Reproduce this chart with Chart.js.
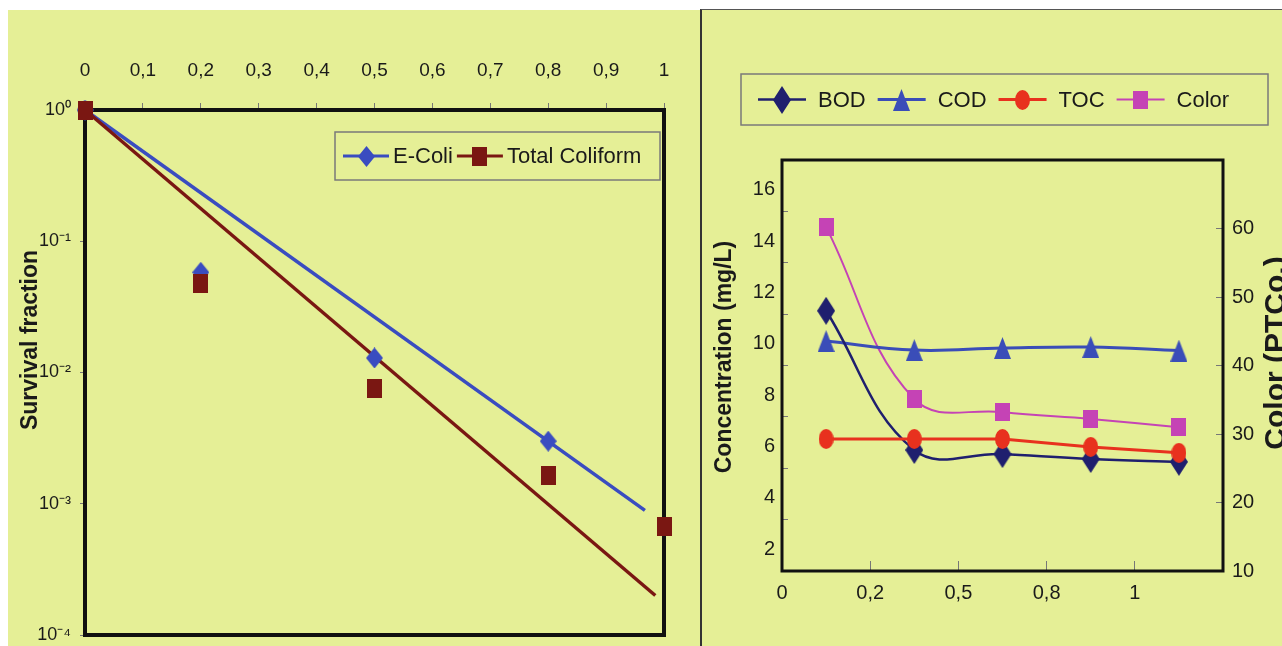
<!DOCTYPE html>
<html>
<head>
<meta charset="utf-8">
<script src="https://cdn.jsdelivr.net/npm/chart.js@4/dist/chart.umd.min.js"></script>
<style>
html,body{margin:0;padding:0;background:#ffffff;width:1282px;height:646px;overflow:hidden}
#left{position:absolute;left:8px;top:10px;width:692px;height:636px;background:#E5EF96}
#right{position:absolute;left:700px;top:9px;width:580px;height:637px;background:#E5EF96;border-left:2px solid #333;border-top:1px solid #555}
canvas{display:block}
</style>
</head>
<body>
<div id="left"><canvas id="c1" width="692" height="636"></canvas></div>
<div id="right"><canvas id="c2" width="580" height="636"></canvas></div>
<script>
// ---------- Left chart data ----------
const doseTicks = [0, 0.1, 0.2, 0.3, 0.4, 0.5, 0.6, 0.7, 0.8, 0.9, 1];
const doseTickLabels = ['0', '0,1', '0,2', '0,3', '0,4', '0,5', '0,6', '0,7', '0,8', '0,9', '1'];
const survivalTicks = [1, 0.1, 0.01, 0.001, 0.0001];
const survivalTickLabels = ['10\u2070', '10\u207B\u00B9', '10\u207B\u00B2', '10\u207B\u00B3', '10\u207B\u2074'];

const eColiDose = [0, 0.2, 0.5, 0.8];
const eColiSurvival = [1, 0.058, 0.0129, 0.0030];
const coliformDose = [0, 0.2, 0.5, 0.8, 1.0];
const coliformSurvival = [1, 0.048, 0.0075, 0.00164, 0.00067];

const eColiFitDose = [0, 0.967];
const eColiFit = [1, 0.00089];
const coliformFitDose = [0, 0.985];
const coliformFit = [1, 0.0002];

// ---------- Right chart data ----------
const treatmentTickLabels = ['0', '0,2', '0,5', '0,8', '1', ''];
const bodValues = [11.13, 5.71, 5.55, 5.36, 5.25];
const codValues = [9.95, 9.6, 9.68, 9.72, 9.58];
const tocValues = [6.14, 6.14, 6.14, 5.83, 5.6];
const colorValues = [60.2, 35.1, 33.2, 32.2, 31.0];
const concTicks = [2, 4, 6, 8, 10, 12, 14, 16];
const colorTicks = [10, 20, 30, 40, 50, 60, 70];
const colorTickLabels = ['10', '20', '30', '40', '50', '60', ''];

// ---------- helpers ----------
const FONT = '"Liberation Sans", Arial, Helvetica, sans-serif';
Chart.defaults.font.family = FONT;
Chart.defaults.color = '#1a1a1a';

function marker(shape, color, w, h) {
  const c = document.createElement('canvas');
  c.width = w; c.height = h;
  const g = c.getContext('2d');
  g.fillStyle = color;
  g.beginPath();
  if (shape === 'diamond') { g.moveTo(w / 2, 0); g.lineTo(w, h / 2); g.lineTo(w / 2, h); g.lineTo(0, h / 2); }
  else if (shape === 'square') { g.rect(0, 0, w, h); }
  else if (shape === 'triangle') { g.moveTo(w / 2, 0); g.lineTo(w, h); g.lineTo(0, h); }
  else if (shape === 'ellipse') { g.ellipse(w / 2, h / 2, w / 2, h / 2, 0, 0, Math.PI * 2); }
  g.closePath(); g.fill();
  return c;
}
const xy = (xs, ys) => xs.map((x, i) => ({ x: x, y: ys[i] }));
const cat = (ys) => ys.map((y, i) => ({ x: i + 0.5, y: y }));

const framePlugin = {
  id: 'frame',
  beforeDatasetsDraw(chart, args, opts) {
    const a = chart.chartArea, ctx = chart.ctx;
    ctx.save();
    ctx.strokeStyle = opts.color; ctx.lineWidth = opts.width;
    ctx.strokeRect(a.left, a.top, a.right - a.left, a.bottom - a.top);
    ctx.restore();
  }
};
const titlePlugin = {
  id: 'axisTitles',
  afterDraw(chart, args, opts) {
    const ctx = chart.ctx;
    (opts.items || []).forEach(t => {
      ctx.save();
      ctx.translate(t.x, t.y);
      ctx.rotate(-Math.PI / 2);
      ctx.font = t.font; ctx.fillStyle = '#1a1a1a';
      ctx.textAlign = 'center'; ctx.textBaseline = t.baseline || 'middle';
      ctx.fillText(t.text, 0, 0);
      ctx.restore();
    });
  }
};
const legendPlugin = {
  id: 'boxLegend',
  afterDraw(chart, args, o) {
    const ctx = chart.ctx;
    ctx.save();
    ctx.strokeStyle = o.borderColor; ctx.lineWidth = o.borderWidth;
    ctx.strokeRect(o.x, o.y, o.w, o.h);
    ctx.font = o.font; ctx.fillStyle = '#1a1a1a';
    ctx.textBaseline = 'middle'; ctx.textAlign = 'left';
    const cy = o.y + o.h / 2;
    let x = o.x + o.padLeft;
    chart.data.datasets.forEach(ds => {
      if (!ds.inLegend) return;
      ctx.strokeStyle = ds.borderColor; ctx.lineWidth = ds.legendLineWidth || ds.borderWidth;
      ctx.beginPath(); ctx.moveTo(x, cy); ctx.lineTo(x + o.lineLen, cy); ctx.stroke();
      const m = ds.pointStyle;
      ctx.drawImage(m, Math.round(x + o.lineLen / 2 - m.width / 2), Math.round(cy - m.height / 2));
      x += o.lineLen + o.gap1;
      ctx.fillText(ds.label, x, cy + 1);
      x += ctx.measureText(ds.label).width + o.gap2;
    });
    ctx.restore();
  }
};
const noEndPadding = s => { s.paddingTop = 0; s.paddingBottom = 0; };

// ---------- Left chart ----------
const ecoliBlue = '#3A4CC0';
const coliformRed = '#7A1712';
new Chart(document.getElementById('c1'), {
  type: 'line',
  data: {
    datasets: [
      { label: 'Total Coliform', data: xy(coliformDose, coliformSurvival), showLine: false,
        borderColor: coliformRed, backgroundColor: coliformRed, borderWidth: 3, legendLineWidth: 3,
        pointStyle: marker('square', coliformRed, 15, 19), pointRadius: 8, clip: false, order: 0, inLegend: true, legendIndex: 1 },
      { label: 'E-Coli', data: xy(eColiDose, eColiSurvival), showLine: false,
        borderColor: ecoliBlue, backgroundColor: ecoliBlue, borderWidth: 3, legendLineWidth: 3,
        pointStyle: marker('diamond', ecoliBlue, 17, 21), pointRadius: 8, clip: false, order: 1, inLegend: true, legendIndex: 0 },
      { label: 'Total Coliform fit', data: xy(coliformFitDose, coliformFit), borderColor: coliformRed,
        borderWidth: 3.5, pointRadius: 0, tension: 0, clip: false, order: 2 },
      { label: 'E-Coli fit', data: xy(eColiFitDose, eColiFit), borderColor: ecoliBlue,
        borderWidth: 3.5, pointRadius: 0, tension: 0, clip: false, order: 3 }
    ]
  },
  options: {
    responsive: false, animation: false,
    layout: { padding: { left: 0, top: 0, right: 36, bottom: 9 } },
    plugins: {
      legend: { display: false }, tooltip: { enabled: false },
      frame: { color: '#111', width: 4 },
      axisTitles: { items: [ { text: 'Survival fraction', x: 23, y: 330, font: 'bold 23px ' + FONT } ] },
      boxLegend: { x: 327, y: 122, w: 325, h: 48, padLeft: 8, lineLen: 46, gap1: 4, gap2: 4,
                   font: '22px ' + FONT, borderColor: '#7a7a7a', borderWidth: 1.5 }
    },
    scales: {
      x: {
        type: 'linear', position: 'top', min: 0, max: 1,
        afterBuildTicks: s => { s.ticks = doseTicks.map(v => ({ value: v })); },
        afterFit: s => { s.height = 100; },
        ticks: { callback: (v, i) => doseTickLabels[i], font: { size: 19 }, padding: 21, maxRotation: 0, autoSkip: false },
        grid: { drawOnChartArea: false, tickLength: 7, color: '#777' },
        border: { display: false }
      },
      y: {
        type: 'logarithmic', min: 0.0001, max: 1,
        afterBuildTicks: s => { s.ticks = survivalTicks.map(v => ({ value: v })); },
        afterFit: s => { s.width = 77; noEndPadding(s); },
        ticks: { callback: (v, i) => survivalTickLabels[i], font: { size: 18 }, padding: 9, autoSkip: false },
        grid: { drawOnChartArea: false, tickLength: 5, color: '#777' },
        border: { display: false }
      }
    }
  },
  plugins: [framePlugin, titlePlugin, {
    id: 'boxLegend',
    afterDraw(chart, args, o) {
      const ordered = chart.data.datasets.filter(d => d.inLegend).sort((a, b) => a.legendIndex - b.legendIndex);
      legendPlugin.afterDraw({ ctx: chart.ctx, data: { datasets: ordered } }, args, o);
    }
  }]
});

// ---------- Right chart ----------
const bodColor = '#1F1F6E';
const codColor = '#3A4DB8';
const tocColor = '#E8311E';
const colorColor = '#C543B5';
new Chart(document.getElementById('c2'), {
  type: 'line',
  data: {
    datasets: [
      { label: 'BOD', data: cat(bodValues), borderColor: bodColor, backgroundColor: bodColor, borderWidth: 2.5,
        pointStyle: marker('diamond', bodColor, 18, 28), pointRadius: 9, tension: 0.4, order: 1, inLegend: true, yAxisID: 'y' },
      { label: 'COD', data: cat(codValues), borderColor: codColor, backgroundColor: codColor, borderWidth: 3,
        pointStyle: marker('triangle', codColor, 17, 22), pointRadius: 9, tension: 0.4, order: 2, inLegend: true, yAxisID: 'y' },
      { label: 'TOC', data: cat(tocValues), borderColor: tocColor, backgroundColor: tocColor, borderWidth: 3,
        pointStyle: marker('ellipse', tocColor, 15, 20), pointRadius: 9, tension: 0, order: 0, inLegend: true, yAxisID: 'y' },
      { label: 'Color', data: cat(colorValues), borderColor: colorColor, backgroundColor: colorColor, borderWidth: 2,
        pointStyle: marker('square', colorColor, 15, 18), pointRadius: 9, tension: 0.4, order: 3, inLegend: true, yAxisID: 'y2' }
    ]
  },
  options: {
    responsive: false, animation: false,
    layout: { padding: { left: 0, top: 150, right: 0, bottom: 0 } },
    plugins: {
      legend: { display: false }, tooltip: { enabled: false },
      frame: { color: '#111', width: 3 },
      axisTitles: { items: [
        { text: 'Concentration (mg/L)', x: 23, y: 347, font: 'bold 23px ' + FONT },
        { text: 'Color (PTCo.)', x: 583, y: 343, font: 'bold 30px ' + FONT, baseline: 'alphabetic' }
      ] },
      boxLegend: { x: 39, y: 64, w: 527, h: 51, padLeft: 17, lineLen: 48, gap1: 12, gap2: 12,
                   font: '22px ' + FONT, borderColor: '#7a7a7a', borderWidth: 1.5 }
    },
    scales: {
      x: {
        type: 'linear', position: 'bottom', min: 0, max: 5,
        afterBuildTicks: s => { s.ticks = treatmentTickLabels.map((_, i) => ({ value: i })); },
        afterFit: s => { s.height = 75; },
        ticks: { callback: (v, i) => treatmentTickLabels[i], font: { size: 20 }, padding: 20, maxRotation: 0, autoSkip: false },
        grid: { drawOnChartArea: false, tickLength: -10, color: '#777' },
        border: { display: false }
      },
      y: {
        type: 'linear', position: 'left', min: 1, max: 17,
        afterBuildTicks: s => { s.ticks = concTicks.map(v => ({ value: v })); },
        afterFit: s => { s.width = 80; },
        ticks: { font: { size: 20 }, padding: 13, labelOffset: 4, autoSkip: false },
        grid: { drawOnChartArea: false, offset: true, tickLength: -6, color: '#777' },
        border: { display: false }
      },
      y2: {
        type: 'linear', position: 'right', min: 10, max: 70,
        afterBuildTicks: s => { s.ticks = colorTicks.map(v => ({ value: v })); },
        afterFit: s => { s.width = 59; },
        ticks: { callback: (v, i) => colorTickLabels[i], font: { size: 20 }, padding: 16, autoSkip: false },
        grid: { drawOnChartArea: false, tickLength: -7, color: '#777' },
        border: { display: false }
      }
    }
  },
  plugins: [framePlugin, titlePlugin, legendPlugin]
});
</script>
</body>
</html>
